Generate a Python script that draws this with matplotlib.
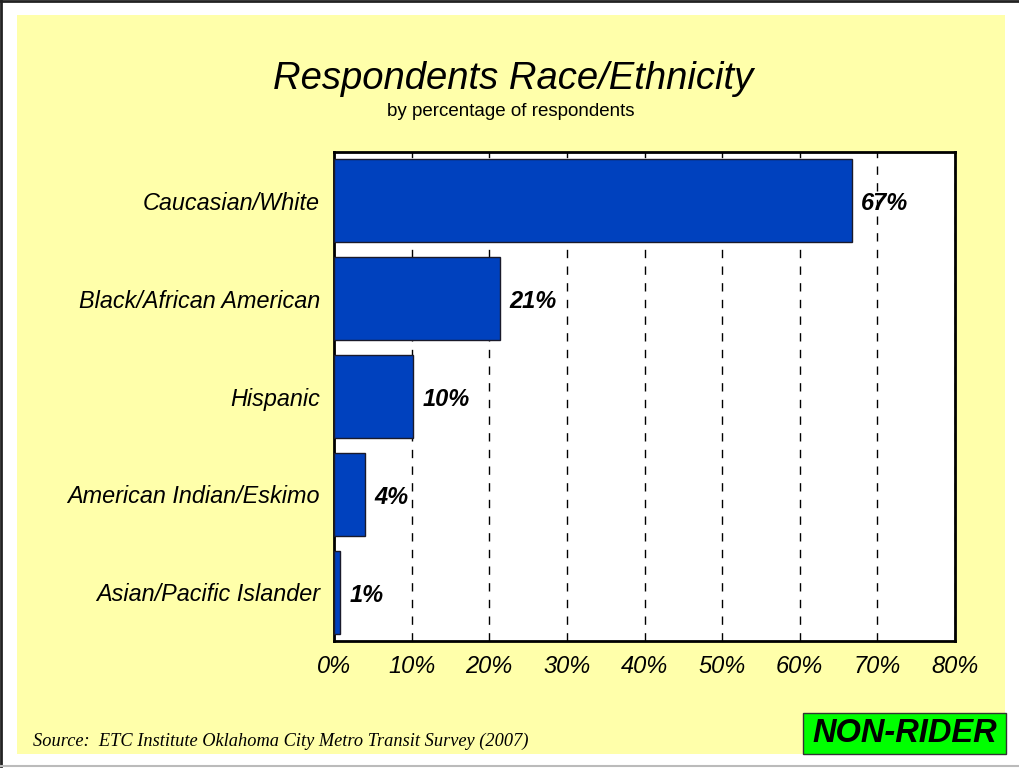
import matplotlib
matplotlib.use("Agg")
import matplotlib.pyplot as plt
from matplotlib.patches import Rectangle

# data (top to bottom)
categories = ["Caucasian/White", "Black/African American", "Hispanic",
              "American Indian/Eskimo", "Asian/Pacific Islander"]
values = [66.7, 21.4, 10.2, 4.0, 0.8]
value_labels = ["67%", "21%", "10%", "4%", "1%"]
ticks = [0, 10, 20, 30, 40, 50, 60, 70, 80]
tick_labels = ["0%", "10%", "20%", "30%", "40%", "50%", "60%", "70%", "80%"]

W, H = 1020, 769
fig = plt.figure(figsize=(W / 100, H / 100), dpi=100)
fig.patch.set_facecolor("white")

# yellow slide background and frame lines
fig.patches.append(Rectangle((17 / W, 1 - 754 / H), (1005 - 17) / W, (754 - 15) / H,
                             transform=fig.transFigure, facecolor="#FFFFAA",
                             edgecolor="none", zorder=-10))
fig.add_artist(plt.Line2D([0, 1], [1 - 0.5 / H, 1 - 0.5 / H], color="#222222", lw=2,
                          transform=fig.transFigure))
fig.add_artist(plt.Line2D([0.5 / W, 0.5 / W], [1 - 766 / H, 1], color="#222222", lw=2,
                          transform=fig.transFigure))
fig.add_artist(plt.Line2D([0, 1], [1 - 766 / H, 1 - 766 / H], color="#BBBBBB", lw=1.5,
                          transform=fig.transFigure))

ax = fig.add_axes([334 / W, 1 - 641 / H, (955 - 334) / W, (641 - 152) / H])
ax.set_facecolor("white")

y = list(range(len(categories)))
ax.barh(y, values, height=0.85, color="#0041BE", edgecolor="#1a1a2a", linewidth=1, zorder=3)
ax.set_ylim(len(categories) - 0.5, -0.5)
ax.set_xlim(0, 80)

# value labels, nudged a touch below the bar centre like the original
for yi, v, lab in zip(y, values, value_labels):
    ax.text(v + 1.2, yi + 0.03, lab, va="center", ha="left", fontsize=17, fontweight="bold",
            fontstyle="italic", family="Liberation Sans", zorder=4)

ax.set_yticks(y)
ax.set_yticklabels(categories, fontsize=16.8, fontstyle="italic", family="Liberation Sans")
ax.set_xticks(ticks)
ax.set_xticklabels(tick_labels, fontsize=17, fontstyle="italic", family="Liberation Sans")
ax.tick_params(axis="y", length=0, pad=10)
ax.tick_params(axis="x", length=0, pad=10)

ax.xaxis.grid(True, linestyle=(0, (6, 6)), color="black", linewidth=1, zorder=1)
ax.set_axisbelow(True)
for s in ax.spines.values():
    s.set_linewidth(2)
    s.set_color("black")

fig.text(513 / W, 1 - 79 / H, "Respondents Race/Ethnicity", ha="center", va="center",
         fontsize=27.5, fontstyle="italic", family="Liberation Sans")
fig.text(511 / W, 1 - 111 / H, "by percentage of respondents", ha="center", va="center",
         fontsize=13.5, family="Liberation Sans")

fig.text(33 / W, 1 - 741 / H, "Source:  ETC Institute Oklahoma City Metro Transit Survey (2007)",
         ha="left", va="center", fontsize=13.2, fontstyle="italic", family="Liberation Serif")

fig.patches.append(Rectangle((803 / W, 1 - 754 / H), (1006 - 803) / W, (754 - 713) / H,
                             transform=fig.transFigure, facecolor="#00FF00",
                             edgecolor="#333333", linewidth=1, zorder=2))
fig.text(905 / W, 1 - 734 / H, "NON-RIDER", ha="center", va="center", fontsize=23.5,
         fontstyle="italic", fontweight="bold", family="Liberation Sans", zorder=3)

fig.savefig("out.png", dpi=100, facecolor=fig.get_facecolor())
